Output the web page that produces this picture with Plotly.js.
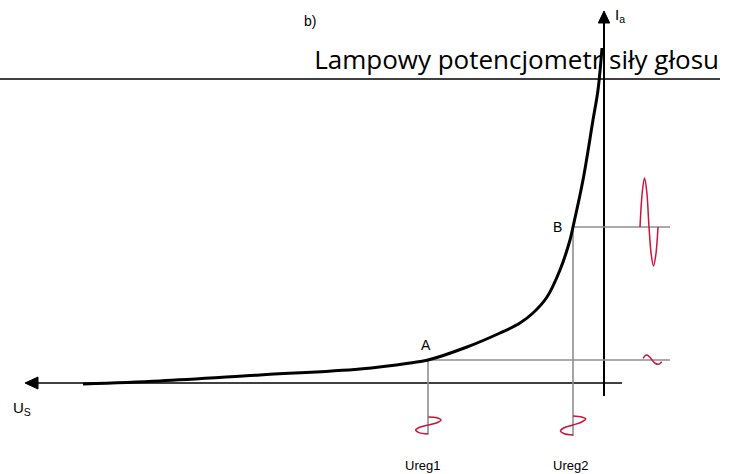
<!DOCTYPE html>
<html>
<head>
<meta charset="utf-8">
<script src="https://cdn.plot.ly/plotly-3.0.1.min.js"></script>
<style>
  html, body { margin: 0; padding: 0; background: #fff; }
  #plotArea { width: 733px; height: 474px; }
</style>
</head>
<body>
<div id="plotArea"></div>
<script>
// characteristic Ia(Us) (1 unit = 10 px, origin at the axes crossing)
var usCurve = [-52.1, -44.4, -34.4, -24.4, -19.4, -17.6, -13.7, -10.4, -8.4, -7.1, -5.7, -4.4, -3.4, -3.1, -2.1, -1.1, -0.6, -0.2];
var iaCurve = [-0.1, 0.2, 0.8, 1.4, 2.0, 2.3, 3.6, 5.0, 6.0, 7.0, 8.6, 11.3, 14.3, 15.6, 20.3, 26.3, 29.3, 33.5];

// working points A and B
var pointNames = ["A", "B"];
var pointUs = [-17.6, -3.1];
var pointIa = [2.3, 15.6];
var projRight = 6.6;          // end of the horizontal projections
var projDown = [-5.1, -5.3];  // end of the vertical projections
var regLabels = ["Ureg1", "Ureg2"];

// small signals (red)
var sigAx = [3.93, 4.1, 4.27, 4.57, 4.87, 5.15, 5.43, 5.6, 5.77];
var sigAy = [2.47, 2.72, 2.8, 2.6, 2.23, 1.95, 1.87, 1.95, 2.13];
var sigBx = [3.6, 3.83, 4.05, 4.28, 4.5, 4.73, 4.95, 5.18, 5.4];
var sigBy = [15.6, 19.1, 20.5, 19.1, 15.6, 12.8, 11.7, 12.8, 15.6];
var reg1x = [-17.57, -16.7, -16.3, -16.7, -17.57, -18.5, -18.83, -18.5, -17.57];
var reg1y = [-3.4, -3.48, -3.7, -3.97, -4.2, -4.45, -4.7, -4.96, -5.1];
var reg2x = [-3.1, -2.23, -1.83, -2.23, -3.1, -4.03, -4.36, -4.03, -3.1];
var reg2y = [-3.3, -3.4, -3.6, -3.9, -4.2, -4.5, -4.8, -5.05, -5.2];

// axes of the diagram
var usAxisX = [-56.6, 1.8];
var iaAxisY = [-1.3, 36.0];

var black = "#000000";
var grey = "#8f8f8f";
var red = "#c8153a";
var sans = "Liberation Sans, Arial, sans-serif";

function line(x, y, color, width, shape) {
  return {x: x, y: y, mode: "lines", type: "scatter", hoverinfo: "skip",
          line: {color: color, width: width, shape: shape || "linear"}};
}

var traces = [];
// axes
traces.push(line(usAxisX, [0, 0], black, 1.5));
traces.push(line([0, 0], iaAxisY, black, 2));
// arrow heads
traces.push({x: [-57.9, -56.6, -56.6, -57.9], y: [0, 0.6, -0.6, 0], mode: "lines", fill: "toself",
             fillcolor: black, line: {color: black, width: 1}, hoverinfo: "skip"});
traces.push({x: [0, 0.57, -0.57, 0], y: [37.2, 36.0, 36.0, 37.2], mode: "lines", fill: "toself",
             fillcolor: black, line: {color: black, width: 1}, hoverinfo: "skip"});
// projections of A and B
for (var i = 0; i < pointNames.length; i++) {
  traces.push(line([pointUs[i], projRight], [pointIa[i], pointIa[i]], grey, 1.6));
  traces.push(line([pointUs[i], pointUs[i]], [pointIa[i], projDown[i]], grey, 1.6));
}
// curve
traces.push(line(usCurve, iaCurve, black, 3, "spline"));
// signals
traces.push(line(sigAx, sigAy, red, 1.5, "spline"));
traces.push(line(sigBx, sigBy, red, 1.5, "spline"));
traces.push(line(reg1x, reg1y, red, 1.5, "spline"));
traces.push(line(reg2x, reg2y, red, 1.5, "spline"));

var annotations = [
  {x: -29.4, y: 36.2, text: "b)", font: {family: sans, size: 14, color: black}},
  {x: 0.9, y: 36.8, text: "I<sub>a</sub>", xanchor: "left", font: {family: sans, size: 15, color: black}},
  {x: -58.2, y: -2.5, text: "U<sub>S</sub>", font: {family: sans, size: 15, color: black}},
  {x: pointUs[0] - 0.2, y: pointIa[0] + 1.5, text: pointNames[0], font: {family: sans, size: 14, color: black}},
  {x: pointUs[1] - 1.6, y: pointIa[1], text: pointNames[1], font: {family: sans, size: 14, color: black}},
  {x: pointUs[0] - 0.6, y: -8.2, text: regLabels[0], font: {family: sans, size: 13, color: black}},
  {x: pointUs[1] - 0.3, y: -8.2, text: regLabels[1], font: {family: sans, size: 13, color: black}}
];
annotations.forEach(function(a) { a.showarrow = false; a.xref = "x"; a.yref = "y"; });

var layout = {
  width: 733, height: 474,
  margin: {l: 0, r: 0, t: 0, b: 0},
  paper_bgcolor: "#ffffff", plot_bgcolor: "#ffffff",
  showlegend: false,
  title: {text: "Lampowy potencjometr siły głosu", x: 719 / 733, xanchor: "right", xref: "paper",
          y: 1 - 60 / 474, yanchor: "middle", yref: "paper",
          font: {family: "Open Sans, sans-serif", size: 26, color: black}},
  xaxis: {range: [-60.4, 12.9], visible: false, fixedrange: true},
  yaxis: {range: [-9.1, 38.3], visible: false, fixedrange: true},
  shapes: [{type: "line", xref: "paper", x0: 0, x1: 720 / 733, yref: "y", y0: 30.4, y1: 30.4,
            line: {color: black, width: 1.5}}],
  annotations: annotations
};

Plotly.newPlot("plotArea", traces, layout, {displayModeBar: false, staticPlot: true});
</script>
</body>
</html>
